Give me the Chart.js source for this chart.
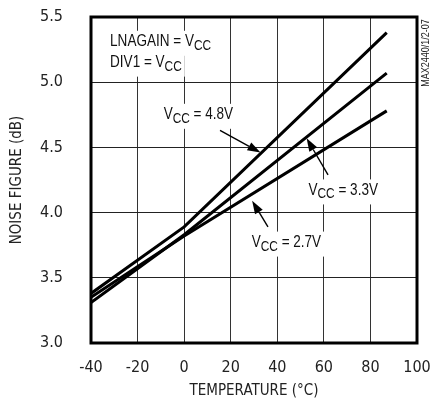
<!DOCTYPE html>
<html>
<head>
<meta charset="utf-8">
<script src="https://cdn.jsdelivr.net/npm/chart.js@4/dist/chart.umd.min.js"></script>
<style>
  html, body { margin: 0; padding: 0; background: #fff; }
  #wrap { width: 433px; height: 400px; }
</style>
</head>
<body>
<div id="wrap"><canvas id="chart" width="433" height="400"></canvas></div>
<script>
// Noise figure vs temperature (MAX2440, TOC07)
var TEMPS = [-40, 0, 87];
var NF_48 = [3.38, 3.89, 5.38];
var NF_33 = [3.31, 3.83, 5.07];
var NF_27 = [3.35, 3.82, 4.78];
var X_TICKS = [-40, -20, 0, 20, 40, 60, 80, 100];
var Y_TICKS = [3.0, 3.5, 4.0, 4.5, 5.0, 5.5];

var AXIS_FONT = "'DejaVu Sans Condensed', 'Liberation Sans', sans-serif";
var NOTE_FONT = "'Liberation Sans', Arial, sans-serif";
var NARROW = 0.82; // squeeze for the note text

function pts(ys) {
  return TEMPS.map(function (t, i) { return { x: t, y: ys[i] }; });
}

function lineSet(label, ys) {
  return {
    label: label,
    data: pts(ys),
    borderColor: '#000',
    borderWidth: 3,
    pointRadius: 0,
    tension: 0,
    fill: false
  };
}

// text notes in data units: left edge / vertical middle of the text
var NOTES = [
  { at: [-31.8, 5.31], parts: [['LNAGAIN = V'], ['CC', 1]] },
  { at: [-31.8, 5.15], parts: [['DIV1 = V'], ['CC', 1]] },
  { at: [-8.8, 4.75], parts: [['V'], ['CC', 1], [' = 4.8V']] },
  { at: [53.4, 4.17], parts: [['V'], ['CC', 1], [' = 3.3V']] },
  { at: [29.0, 3.77], parts: [['V'], ['CC', 1], [' = 2.7V']] }
];
// arrows: from -> tip, data units
var ARROWS = [
  { from: [15.4, 4.63], to: [32.8, 4.46] },
  { from: [61.8, 4.29], to: [52.6, 4.57] },
  { from: [36.0, 3.89], to: [29.2, 4.09] }
];

function partFont(p) {
  return (p[1] ? '14.5px ' : '16.5px ') + NOTE_FONT;
}

function drawParts(ctx, x, y, parts) {
  var widths = parts.map(function (p) {
    ctx.font = partFont(p);
    return ctx.measureText(p[0]).width * NARROW;
  });
  var total = widths.reduce(function (a, b) { return a + b; }, 0);
  ctx.fillStyle = '#fff';
  ctx.fillRect(x - 3, y - 11, total + 6, 25);
  ctx.fillStyle = '#111';
  ctx.textBaseline = 'middle';
  ctx.textAlign = 'left';
  var cx = x;
  parts.forEach(function (p, i) {
    ctx.save();
    ctx.font = partFont(p);
    ctx.translate(cx, p[1] ? y + 4 : y);
    ctx.scale(NARROW, 1);
    ctx.fillText(p[0], 0, 0);
    ctx.restore();
    cx += widths[i];
  });
}

function drawArrow(ctx, x1, y1, x2, y2) {
  var ang = Math.atan2(y2 - y1, x2 - x1);
  var len = 13, half = 4.5;
  var bx = x2 - len * Math.cos(ang), by = y2 - len * Math.sin(ang);
  ctx.strokeStyle = '#000';
  ctx.lineWidth = 1.4;
  ctx.beginPath();
  ctx.moveTo(x1, y1);
  ctx.lineTo(bx, by);
  ctx.stroke();
  ctx.fillStyle = '#000';
  ctx.beginPath();
  ctx.moveTo(x2, y2);
  ctx.lineTo(bx + half * Math.sin(ang), by - half * Math.cos(ang));
  ctx.lineTo(bx - half * Math.sin(ang), by + half * Math.cos(ang));
  ctx.closePath();
  ctx.fill();
}

var framePlugin = {
  id: 'frame',
  beforeDatasetsDraw: function (chart) {
    var ctx = chart.ctx, a = chart.chartArea;
    var xs = chart.scales.x, ys = chart.scales.y;
    ctx.save();
    NOTES.forEach(function (n) {
      drawParts(ctx, xs.getPixelForValue(n.at[0]), ys.getPixelForValue(n.at[1]), n.parts);
    });
    ctx.strokeStyle = '#000';
    ctx.lineWidth = 3;
    ctx.strokeRect(a.left, a.top, a.right - a.left, a.bottom - a.top);
    ctx.restore();
  },
  afterDatasetsDraw: function (chart) {
    var ctx = chart.ctx;
    var xs = chart.scales.x, ys = chart.scales.y;
    ctx.save();
    ARROWS.forEach(function (r) {
      drawArrow(ctx,
        xs.getPixelForValue(r.from[0]), ys.getPixelForValue(r.from[1]),
        xs.getPixelForValue(r.to[0]), ys.getPixelForValue(r.to[1]));
    });
    // figure code on the right edge
    ctx.translate(426, 53);
    ctx.rotate(-Math.PI / 2);
    ctx.font = '11px ' + NOTE_FONT;
    ctx.scale(NARROW, 1);
    ctx.fillStyle = '#222';
    ctx.textAlign = 'center';
    ctx.textBaseline = 'middle';
    ctx.fillText('MAX2440/1/2-07', 0, 0);
    ctx.restore();
  }
};

new Chart(document.getElementById('chart'), {
  type: 'line',
  data: {
    datasets: [
      lineSet('VCC = 4.8V', NF_48),
      lineSet('VCC = 3.3V', NF_33),
      lineSet('VCC = 2.7V', NF_27)
    ]
  },
  options: {
    responsive: false,
    animation: false,
    layout: { padding: { top: 17, right: 16, left: 0, bottom: 0 } },
    plugins: { legend: { display: false }, tooltip: { enabled: false } },
    scales: {
      x: {
        type: 'linear',
        min: -40,
        max: 100,
        afterBuildTicks: function (s) { s.ticks = X_TICKS.map(function (v) { return { value: v }; }); },
        afterFit: function (s) {
          s.height = 57;
          s.paddingLeft = 0; s.paddingRight = 0;
        },
        grid: { color: '#333', lineWidth: 1, drawTicks: false },
        border: { display: false },
        ticks: {
          color: '#222',
          padding: 15,
          maxRotation: 0,
          font: { family: AXIS_FONT, size: 16 },
          callback: function (v) { return String(v); }
        },
        title: {
          display: true,
          text: 'TEMPERATURE (°C)',
          color: '#222',
          font: { family: AXIS_FONT, size: 15 },
          padding: { top: 0, bottom: 0 }
        }
      },
      y: {
        min: 3.0,
        max: 5.5,
        afterBuildTicks: function (s) { s.ticks = Y_TICKS.map(function (v) { return { value: v }; }); },
        afterFit: function (s) {
          s.width = 91;
          s.paddingTop = 0; s.paddingBottom = 0;
        },
        grid: { color: '#222', lineWidth: 1, drawTicks: false },
        border: { display: false },
        ticks: {
          color: '#222',
          padding: 28,
          font: { family: AXIS_FONT, size: 16 },
          callback: function (v) { return Number(v).toFixed(1); }
        },
        title: {
          display: true,
          text: 'NOISE FIGURE (dB)',
          color: '#222',
          font: { family: AXIS_FONT, size: 15 },
          padding: { top: 8, bottom: 0 }
        }
      }
    }
  },
  plugins: [framePlugin]
});
</script>
</body>
</html>
